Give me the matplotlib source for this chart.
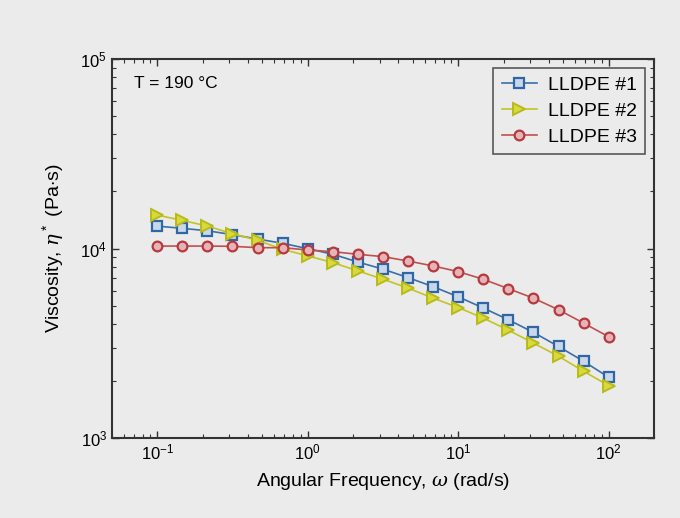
import numpy as np
import matplotlib
matplotlib.use("Agg")
import matplotlib.pyplot as plt

plt.rcParams['font.family'] = ['Liberation Sans', 'DejaVu Sans']
plt.rcParams['mathtext.fontset'] = 'custom'
plt.rcParams['mathtext.rm'] = 'Liberation Sans'
plt.rcParams['mathtext.it'] = 'DejaVu Serif:italic'

omega = [0.1, 0.147, 0.215, 0.316, 0.464, 0.681, 1.0, 1.47, 2.15, 3.16,
         4.64, 6.81, 10.0, 14.7, 21.5, 31.6, 46.4, 68.1, 100.0]
lldpe1 = [13130, 12770, 12410, 11830, 11220, 10650, 9980, 9320, 8490, 7780,
          7020, 6290, 5560, 4850, 4210, 3610, 3040, 2540, 2090]
lldpe2 = [15000, 14070, 13130, 11970, 11040, 9900, 9140, 8420, 7620, 6890,
          6180, 5470, 4880, 4290, 3710, 3170, 2700, 2250, 1890]
lldpe3 = [10300, 10300, 10300, 10270, 10100, 10100, 9820, 9620, 9320, 9060,
          8590, 8090, 7550, 6880, 6140, 5470, 4750, 4040, 3420]
labels = ['LLDPE #1', 'LLDPE #2', 'LLDPE #3']

bg = '#ebebeb'
fig = plt.figure(figsize=(6.8, 5.18), dpi=100, facecolor=bg)
ax = fig.add_axes([112/680, 1-438/518, (654-112)/680, (438-59)/518], facecolor=bg)

ax.plot(omega, lldpe1, '-s', color='#3a6fa8', lw=1.2, ms=7.5, mfc='#c8d8ea',
        mec='#2f66a3', mew=1.6, label=labels[0])
ax.plot(omega, lldpe2, '->', color='#c2c424', lw=1.2, ms=9, mfc='#d8da3c',
        mec='#b8ba1c', mew=1.4, label=labels[1])
ax.plot(omega, lldpe3, '-o', color='#c05050', lw=1.2, ms=7, mfc='#e6b4b8',
        mec='#b53a3e', mew=1.6, label=labels[2])

ax.set_xscale('log')
ax.set_yscale('log')
ax.set_xlim(0.05, 200)
ax.set_ylim(1e3, 1e5)

for s in ax.spines.values():
    s.set_color('#333333')
    s.set_linewidth(1.5)

ax.tick_params(which='both', direction='in', top=True, right=True,
               colors='#333333', labelcolor='black', labelsize=12)
ax.tick_params(which='major', length=5, width=1)
ax.tick_params(which='minor', length=3, width=0.8)

ax.set_xlabel(r'Angular Frequency, $\omega$ (rad/s)', fontsize=14, labelpad=6)
ax.set_ylabel(r'Viscosity, $\eta^*$ (Pa$\cdot$s)', fontsize=14, labelpad=10)

ax.text(0.04, 0.935, 'T = 190 °C', transform=ax.transAxes, fontsize=12.5,
        va='center', ha='left')

leg = ax.legend(loc='upper right', fontsize=14, frameon=True, fancybox=False,
                borderaxespad=0.45, handlelength=1.8, labelspacing=0.42,
                borderpad=0.45, handletextpad=0.55)
leg.get_frame().set_edgecolor('#333333')
leg.get_frame().set_facecolor(bg)
leg.get_frame().set_linewidth(1.2)

fig.savefig('out.png', dpi=100, facecolor=bg)
